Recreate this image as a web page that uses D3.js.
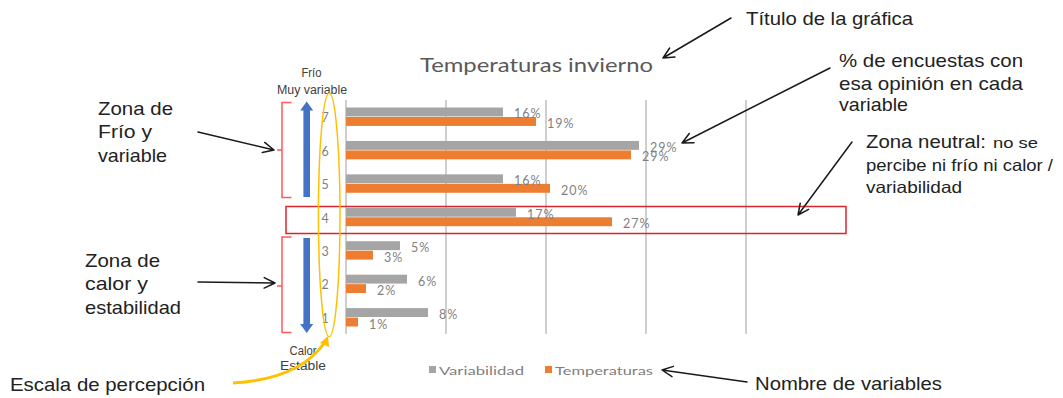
<!DOCTYPE html>
<html>
<head>
<meta charset="utf-8">
<script src="https://cdn.jsdelivr.net/npm/d3@7"></script>
<style>
  html, body { margin: 0; padding: 0; background: #fff; }
  svg { display: block; }
</style>
</head>
<body>
<svg id="chart" width="1063" height="398"></svg>
<script>
// Perception scale (7 = cold / very variable, 1 = warm / stable)
const categories = ["7", "6", "5", "4", "3", "2", "1"];
// % of surveys giving each rating
const variabilidad = [15.7, 29.3, 15.7, 17.0, 5.4, 6.1, 8.2];
const temperaturas = [19.0, 28.5, 20.4, 26.6, 2.7, 2.0, 1.2];
const seriesNames = ["Variabilidad", "Temperaturas"];
const seriesColors = ["#a5a5a5", "#ed7d31"];
const xTicks = [0, 10, 20, 30, 40];
const chartTitle = "Temperaturas invierno";

const svg = d3.select("#chart");
svg.append("rect").attr("width", 1063).attr("height", 398).attr("fill", "#fff");

const x = d3.scaleLinear().domain([0, 40]).range([346, 746]);
const y = d3.scaleBand().domain(categories).range([100, 334])
  .paddingInner(0.45).paddingOuter(0.225);
const ys = d3.scaleBand().domain(seriesNames).range([0, y.bandwidth()]).paddingInner(0.06);

const chartFont = "Lato, 'Open Sans', sans-serif";
const noteFont = "'Liberation Sans', Arial, sans-serif";

// vertical gridlines
svg.append("g").selectAll("line").data(xTicks).join("line")
  .attr("x1", d => x(d)).attr("x2", d => x(d))
  .attr("y1", 100).attr("y2", 334)
  .attr("stroke", "#bfbfbf").attr("stroke-width", 1.5);

// title
svg.append("text").attr("x", 420).attr("y", 72)
  .attr("font-family", chartFont).attr("font-size", 19).attr("fill", "#595959")
  .attr("textLength", 233).attr("lengthAdjust", "spacingAndGlyphs")
  .text(chartTitle);

// category labels
svg.append("g").selectAll("text").data(categories).join("text")
  .attr("x", 325).attr("y", d => y(d) + y.bandwidth() / 2 + 1)
  .attr("text-anchor", "middle").attr("dominant-baseline", "central")
  .attr("font-family", chartFont).attr("font-size", 12.5).attr("fill", "#7f7f7f")
  .text(d => d);

const rows = categories.map((c, i) => ({ c, values: [variabilidad[i], temperaturas[i]] }));
const flat = rows.flatMap(r => r.values.map((v, k) => ({ c: r.c, s: seriesNames[k], k, v })));

// bars
svg.append("g").selectAll("rect").data(flat).join("rect")
  .attr("x", x(0)).attr("y", d => y(d.c) + ys(d.s))
  .attr("width", d => x(d.v) - x(0)).attr("height", ys.bandwidth())
  .attr("fill", d => seriesColors[d.k]);

// value labels
svg.append("g").selectAll("text").data(flat).join("text")
  .attr("x", d => x(d.v) + 11)
  .attr("y", d => y(d.c) + ys(d.s) + ys.bandwidth() / 2 + 2)
  .attr("dominant-baseline", "central")
  .attr("font-family", chartFont).attr("font-size", 12.5).attr("letter-spacing", 1)
  .attr("fill", "#7f7f7f")
  .text(d => Math.round(d.v) + "%");

// legend
const legendX = [429, 545];
const legendW = [85, 98];
const lg = svg.append("g").selectAll("g").data(seriesNames).join("g");
lg.append("rect").attr("x", (d, i) => legendX[i]).attr("y", 366).attr("width", 7).attr("height", 7)
  .attr("fill", (d, i) => seriesColors[i]);
lg.append("text").attr("x", (d, i) => legendX[i] + 10).attr("y", 375)
  .attr("font-family", chartFont).attr("font-size", 12).attr("fill", "#7f7f7f")
  .attr("textLength", (d, i) => legendW[i]).attr("lengthAdjust", "spacingAndGlyphs")
  .text(d => d);

// neutral zone box around rating 4
svg.append("rect").attr("x", 286).attr("y", 206.5).attr("width", 560).attr("height", 27)
  .attr("fill", "none").attr("stroke", "#d9262c").attr("stroke-width", 1.5);

// zone brackets
const bracket = (top, bottom, mid) =>
  `M291.5,${top} L282,${top} L282,${bottom} L291.5,${bottom} M282,${mid} L277,${mid}`;
svg.append("path").attr("d", bracket(102.5, 197.5, 150))
  .attr("fill", "none").attr("stroke", "#ff5a5a").attr("stroke-width", 1.5);
svg.append("path").attr("d", bracket(237, 332.5, 286))
  .attr("fill", "none").attr("stroke", "#ff5a5a").attr("stroke-width", 1.5);

// blue block arrows
const blue = "#4472c4";
svg.append("path")
  .attr("d", "M306.7,101.5 L313.2,110.5 L310,110.5 L310,197 L303.4,197 L303.4,110.5 L300.2,110.5 Z")
  .attr("fill", blue);
svg.append("path")
  .attr("d", "M303.4,238 L310,238 L310,324 L313.2,324 L306.7,333 L300.2,324 L303.4,324 Z")
  .attr("fill", blue);

// scale end captions
const caption = [
  { t: "Frío", x: 311.5, y: 77, w: 20 },
  { t: "Muy variable", x: 312, y: 94, w: 70 },
  { t: "Calor", x: 303, y: 355, w: 27 },
  { t: "Estable", x: 303, y: 369.5, w: 46 }
];
svg.append("g").selectAll("text").data(caption).join("text")
  .attr("x", d => d.x).attr("y", d => d.y).attr("text-anchor", "middle")
  .attr("font-family", noteFont).attr("font-size", 12).attr("fill", "#404040")
  .attr("textLength", d => d.w).attr("lengthAdjust", "spacingAndGlyphs")
  .text(d => d.t);

// yellow ellipse round the scale and its pointer
svg.append("ellipse").attr("cx", 329.2).attr("cy", 215).attr("rx", 10.8).attr("ry", 121.7)
  .attr("fill", "none").attr("stroke", "#ffc000").attr("stroke-width", 1.5);
svg.append("path").attr("d", "M233,383 Q300,379 325,342")
  .attr("fill", "none").attr("stroke", "#ffc000").attr("stroke-width", 3);
svg.append("path").attr("d", "M328,336 L329,347 L320,343 Z").attr("fill", "#ffc000");

// annotation arrows (open heads)
function arrow(x0, y0, x1, y1) {
  const a = Math.atan2(y0 - y1, x0 - x1), L = 12, s = 0.45;
  const d = `M${x0},${y0} L${x1},${y1} ` +
    `M${x1 + L * Math.cos(a + s)},${y1 + L * Math.sin(a + s)} L${x1},${y1} ` +
    `L${x1 + L * Math.cos(a - s)},${y1 + L * Math.sin(a - s)}`;
  svg.append("path").attr("d", d).attr("fill", "none")
    .attr("stroke", "#1a1a1a").attr("stroke-width", 1.5)
    .attr("stroke-linecap", "round").attr("stroke-linejoin", "round");
}
arrow(731, 18, 663, 58);
arrow(830, 68, 682, 143);
arrow(852, 142, 798, 215);
arrow(747, 382, 662, 370);
arrow(198, 132, 274, 150);
arrow(198, 282, 275, 283);

// annotation texts
const notes = [
  { t: "Título de la gráfica", x: 746, y: 25, w: 167, fs: 18.5 },
  { t: "% de encuestas con", x: 839, y: 67, w: 184, fs: 18.5 },
  { t: "esa opinión en cada", x: 839, y: 90, w: 184, fs: 18.5 },
  { t: "variable", x: 839, y: 111, w: 69, fs: 18.5 },
  { t: "Zona neutral:", x: 866, y: 148, w: 120, fs: 18.5 },
  { t: "no se", x: 993, y: 148, w: 45, fs: 15 },
  { t: "percibe ni frío ni calor /", x: 866, y: 171, w: 187, fs: 16.5 },
  { t: "variabilidad", x: 866, y: 193, w: 96, fs: 16.5 },
  { t: "Zona de", x: 98, y: 115, w: 75, fs: 18.5 },
  { t: "Frío y", x: 98, y: 138, w: 54, fs: 18.5 },
  { t: "variable", x: 98, y: 162, w: 69, fs: 18.5 },
  { t: "Zona de", x: 85, y: 267, w: 75, fs: 18.5 },
  { t: "calor y", x: 85, y: 290, w: 63, fs: 18.5 },
  { t: "estabilidad", x: 85, y: 314, w: 96, fs: 18.5 },
  { t: "Escala de percepción", x: 10, y: 391, w: 195, fs: 18.5 },
  { t: "Nombre de variables", x: 755, y: 390, w: 187, fs: 18.5 }
];
svg.append("g").selectAll("text").data(notes).join("text")
  .attr("x", d => d.x).attr("y", d => d.y)
  .attr("font-family", noteFont).attr("font-size", d => d.fs).attr("fill", "#222")
  .attr("textLength", d => d.w).attr("lengthAdjust", "spacingAndGlyphs")
  .text(d => d.t);
</script>
</body>
</html>
